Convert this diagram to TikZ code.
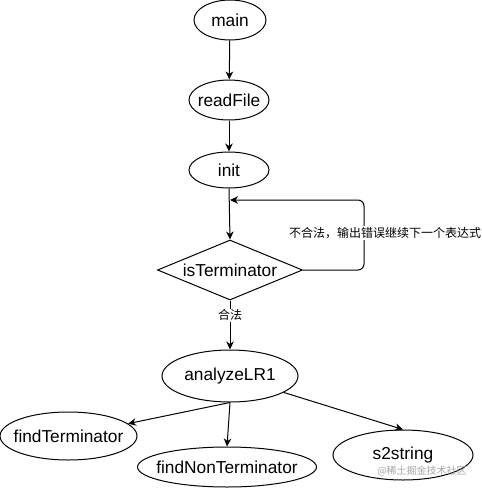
\documentclass[tikz,border=0pt]{standalone}
\usepackage{fontspec}
\setmainfont{Liberation Sans}
\newfontfamily\cjk{Noto Sans CJK SC}
\usetikzlibrary{shapes.geometric,arrows.meta}
\newcommand{\nm}[1]{\makebox[0pt]{#1}}
\begin{document}
\begin{tikzpicture}[x=1pt,y=-1pt,
  ell/.style={draw, ellipse, inner sep=0pt, line width=1pt, font=\fontsize{17.3}{20}\selectfont},
  dia/.style={draw, diamond, inner sep=0pt, line width=1pt, aspect=2.42, font=\fontsize{17.3}{20}\selectfont},
  arr/.style={-{Stealth[length=8pt,width=7.5pt,inset=2.5pt]}, line width=1pt},
  lbl/.style={fill=white, inner sep=1pt, font=\cjk\fontsize{12}{14}\selectfont},
  wm/.style={text=black!35, inner sep=0pt, font=\cjk\fontsize{10}{12}\selectfont}]
\fill[white] (0,0) rectangle (482,491);
\useasboundingbox (0,0) rectangle (482,491);

\node[ell, minimum width=72pt, minimum height=40pt] (main) at (230,20) {\nm{main}};
\node[ell, minimum width=80pt, minimum height=40pt] (read) at (229,100) {\nm{readFile}};
\node[ell, minimum width=80pt, minimum height=36pt] (init) at (229,170) {\nm{init}};
\node[dia, minimum width=145pt, minimum height=60pt] (isT) at (230,270) {\nm{isTerminator}};
\node[ell, minimum width=136pt, minimum height=52pt] (aLR) at (230,376) {\nm{analyzeLR1}};
\node[ell, minimum width=137pt, minimum height=48pt] (fT) at (68.5,436) {\nm{findTerminator}};
\node[ell, minimum width=179pt, minimum height=40pt] (fNT) at (227,467) {\nm{findNonTerminator}};
\node[ell, minimum width=140pt, minimum height=50pt] (s2) at (403,455) {\nm{s2string}};

\coordinate (loopEnd) at (230,200);
\coordinate (c1) at (364,270);
\coordinate (c2) at (364,200);

\draw[arr] (main) -- (read);
\draw[arr] (read) -- (init);
\draw[arr] (init.south) -- (isT.north);
\draw[arr, rounded corners=6pt] (isT.east) -- (c1) -- (c2) -- (loopEnd);
\node[lbl] (lblLoop) at (385,233) {不合法，输出错误继续下一个表达式};
\draw[arr] (isT.south) -- (aLR.north) node[pos=0.3, lbl] (lblOk) {合法};
\draw[arr] (aLR.south) -- (fT);
\draw[arr] (aLR.south) -- (fNT.north);
\draw[arr] (aLR.-17) -- (s2.north);

\node[wm] (wmk) at (422,471) {@稀土掘金技术社区};
\end{tikzpicture}
\end{document}
